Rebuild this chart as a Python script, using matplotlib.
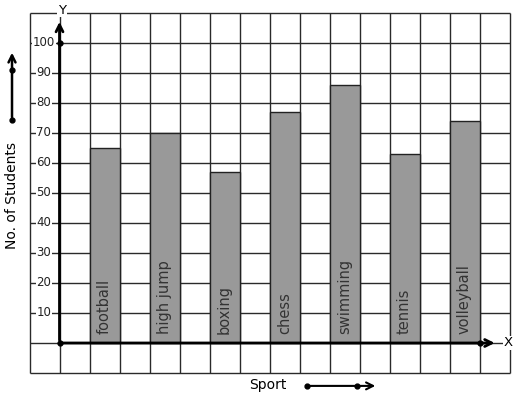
import matplotlib.pyplot as plt
import numpy as np

sports = ['football', 'high jump', 'boxing', 'chess', 'swimming', 'tennis', 'volleyball']
students = [65, 70, 57, 77, 86, 63, 74]
yticks = [10, 20, 30, 40, 50, 60, 70, 80, 90, 100]

# one grid cell = 1 unit on x, 10 students on y
fig = plt.figure(figsize=(5.17, 3.99), dpi=100)
ax = fig.add_axes([0, 0, 1, 1])
ax.set_xlim(-59.5 / 30, (517 - 59.5) / 30)
ax.set_ylim(-(399 - 343) / 3, 343 / 3)
ax.axis('off')

# grid
ax.vlines(np.arange(-1, 16), -10, 110, color='#2a2a2a', lw=1, zorder=1)
ax.hlines(np.arange(-10, 111, 10), -1, 15, color='#2a2a2a', lw=1, zorder=1)

# bars
xs = np.arange(len(sports)) * 2 + 1.5
ax.bar(xs, students, width=1, color='#999999', edgecolor='#222222', lw=1, zorder=2)
for x, s in zip(xs, sports):
    ax.text(x, 3, s, rotation=90, ha='center', va='bottom', fontsize=10.5,
            color='#333333', zorder=4)

# tick labels
for v in yticks:
    ax.text(-0.52, v, str(v), ha='center', va='center', fontsize=8.5, color='#222222',
            bbox=dict(fc='white', ec='none', pad=0.6), zorder=3)

# axes with arrows
ax.annotate('', xy=(0, 108), xytext=(0, 0),
            arrowprops=dict(arrowstyle='->,head_length=0.5,head_width=0.25', lw=2, color='black'),
            zorder=5)
ax.annotate('', xy=(14.6, 0), xytext=(0, 0),
            arrowprops=dict(arrowstyle='->,head_length=0.5,head_width=0.25', lw=2, color='black'),
            zorder=5)
ax.plot([0, 0, 14], [0, 100, 0], 'o', color='black', ms=3.5, zorder=6)
ax.text(0.08, 111, 'Y', ha='center', va='center', fontsize=9.5,
        bbox=dict(fc='white', ec='none', pad=0.5), zorder=5)
ax.text(14.95, 0, 'X', ha='center', va='center', fontsize=9.5,
        bbox=dict(fc='white', ec='none', pad=0.5), zorder=5)

# axis titles with little arrows
ax.text(-1.583, 49.3, 'No. of Students', rotation=90, ha='center', va='center', fontsize=10)
ax.annotate('', xy=(-1.583, 97.7), xytext=(-1.583, 74.3),
            arrowprops=dict(arrowstyle='->,head_length=0.5,head_width=0.25', lw=1.8, color='black'))
ax.plot([-1.583, -1.583], [74.3, 91], 'o', color='black', ms=3.5)

ax.text(6.95, -14, 'Sport', ha='center', va='center', fontsize=10)
ax.annotate('', xy=(10.62, -14.3), xytext=(8.25, -14.3),
            arrowprops=dict(arrowstyle='->,head_length=0.5,head_width=0.25', lw=1.5, color='black'))
ax.plot([8.25, 9.92], [-14.3, -14.3], 'o', color='black', ms=3.5)

plt.savefig('out.png', dpi=100)
